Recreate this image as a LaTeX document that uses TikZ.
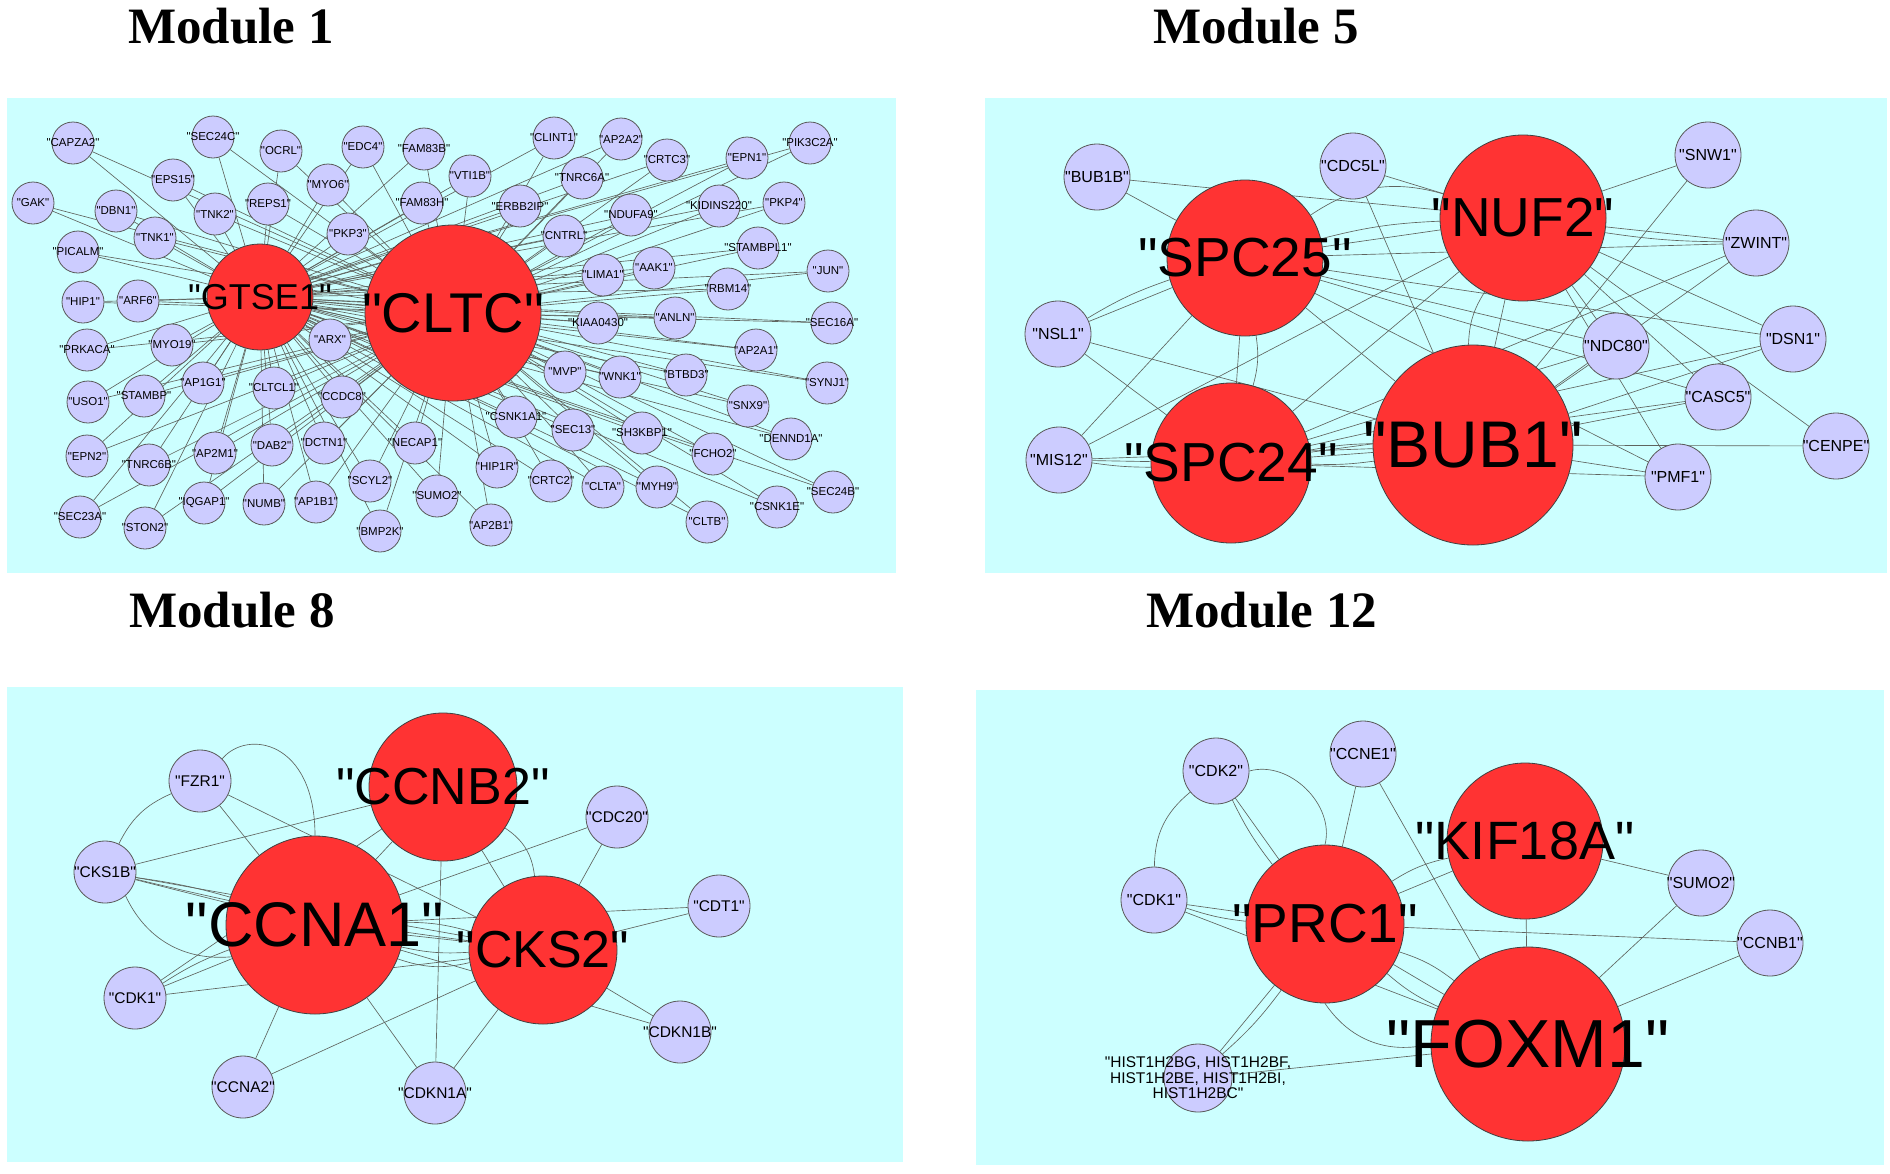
\documentclass[tikz,border=0pt]{standalone}
\usepackage{fontspec}
\setmainfont{Liberation Sans}
\newfontfamily\labelfont{Liberation Sans}
\newfontfamily\titlefont{Liberation Serif}
\usepackage{tikz}

\definecolor{panelcyan}{RGB}{204,255,255}
\definecolor{hubred}{RGB}{255,51,51}
\definecolor{genelilac}{RGB}{204,204,255}
\definecolor{wiregray}{RGB}{95,100,95}

\pgfdeclarelayer{panel}
\pgfdeclarelayer{wires}
\pgfsetlayers{panel,wires,main}

\tikzset{
  gene/.style={circle, draw=black!65, line width=0.8pt, fill=genelilac, inner sep=0pt, minimum size=#1},
  hub/.style={circle, draw=black!75, line width=0.8pt, fill=hubred, inner sep=0pt, minimum size=#1},
  gtxt/.style={font=\labelfont\fontsize{#1}{#1}\selectfont, inner sep=0pt, text=black},
  link/.style={draw=wiregray, line width=0.65pt},
  modtitle/.style={font=\titlefont\bfseries\fontsize{51}{51}\selectfont, anchor=base west, inner sep=0pt},
}

\begin{document}
\begin{tikzpicture}[x=1pt, y=-1pt]
    \useasboundingbox (0,0) rectangle (1890,1173);

    % panels
    \begin{pgfonlayer}{panel}
    \fill[panelcyan] (7,98) rectangle (896,573);
    \fill[panelcyan] (985,98) rectangle (1887,573);
    \fill[panelcyan] (7,687) rectangle (903,1162);
    \fill[panelcyan] (976,690) rectangle (1884,1165);
    \end{pgfonlayer}

    \node[modtitle] (t1) at (128,43) {Module 1};
    \node[modtitle] (t5) at (1153,43) {Module 5};
    \node[modtitle] (t8) at (129,627) {Module 8};
    \node[modtitle] (t12) at (1146,627) {Module 12};

    % Module 1
    \node[hub=106pt, label={[gtxt=36]center:"GTSE1"}] (GTSE1) at (260,297) {};
    \node[hub=176pt, label={[gtxt=56]center:"CLTC"}] (CLTC) at (453,313) {};
    \foreach \n/\x/\y in {CAPZA2/73/143, SEC24C/213/137, OCRL/281/151, EPS15/173/180,
        GAK/33/203, DBN1/116/211, TNK2/215/214, REPS1/268/204, MYO6/328/185,
        TNK1/155/238, PKP3/348/234, PICALM/78/252, HIP1/83/302, ARF6/138/301,
        ARX/330/340, PRKACA/87/350, MYO19/172/345, USO1/88/402, STAMBP/144/396,
        AP1G1/203/383, CLTCL1/274/388, CCDC8/342/397, EPN2/87/456, TNRC6B/149/465,
        AP2M1/215/453, DAB2/272/445, DCTN1/324/443, SEC23A/80/517, STON2/145/528,
        IQGAP1/204/503, NUMB/264/504, AP1B1/316/502,
        EDC4/363/147, FAM83B/424/149, FAM83H/422/203, VTI1B/470/176, CLINT1/554/138,
        AP2A2/621/139, CRTC3/667/160, EPN1/747/158, PIK3C2A/810/143, TNRC6A/582/178,
        ERBB2IP/520/206, NDUFA9/631/215, KIDINS220/719/206, PKP4/784/203, CNTRL/564/236,
        STAMBPL1/758/248, LIMA1/603/275, AAK1/654/268, JUN/828/271, RBM14/728/289,
        KIAA0430/598/323, ANLN/675/318, SEC16A/832/323, AP2A1/756/350, MVP/565/372,
        WNK1/620/377, BTBD3/686/375, SYNJ1/827/383, NECAP1/415/443, SCYL2/370/481,
        SUMO2/437/496, BMP2K/380/531, CSNK1A1/516/417, SEC13/573/430, SH3KBP1/642/433,
        SNX9/748/406, DENND1A/791/439, FCHO2/713/454, HIP1R/497/467, CRTC2/551/481,
        CLTA/603/487, MYH9/657/487, CLTB/707/522, CSNK1E/777/507, SEC24B/833/492,
        AP2B1/491/525}
        \node[gene=42pt, label={[gtxt=11.5]center:"\n"}] (\n) at (\x,\y) {};

    \begin{pgfonlayer}{wires}
    \draw[link] (GTSE1) -- (CLTC);
    \foreach \n in {CAPZA2, SEC24C, OCRL, EPS15, GAK, DBN1, TNK2, REPS1, MYO6, TNK1,
        PKP3, PICALM, HIP1, ARF6, ARX, PRKACA, MYO19, USO1, STAMBP, AP1G1, CLTCL1,
        CCDC8, EPN2, TNRC6B, AP2M1, DAB2, DCTN1, SEC23A, STON2, IQGAP1, NUMB, AP1B1,
        EDC4, FAM83B, FAM83H, VTI1B, CLINT1, AP2A2, CRTC3, EPN1, PIK3C2A, TNRC6A,
        ERBB2IP, NDUFA9, KIDINS220, PKP4, CNTRL, STAMBPL1, LIMA1, AAK1, JUN, RBM14,
        KIAA0430, ANLN, SEC16A, AP2A1, MVP, WNK1, BTBD3, SYNJ1, NECAP1, SCYL2, SUMO2,
        BMP2K, CSNK1A1, SEC13, SH3KBP1, SNX9, DENND1A, FCHO2, HIP1R, CRTC2, CLTA, MYH9,
        CLTB, CSNK1E, SEC24B, AP2B1}
        {\draw[link] (\n) -- (CLTC); \draw[link] (\n) -- (GTSE1);}
    \end{pgfonlayer}

    % Module 5
    \node[hub=156pt, label={[gtxt=55]center:"SPC25"}] (m5spc25) at (1245,258) {};
    \node[hub=166pt, label={[gtxt=55]center:"NUF2"}] (m5nuf2) at (1523,218) {};
    \node[hub=160pt, label={[gtxt=55]center:"SPC24"}] (m5spc24) at (1231,463) {};
    \node[hub=200pt, label={[gtxt=66]center:"BUB1"}] (m5bub1) at (1473,445) {};
    \node[gene=66pt, label={[gtxt=16]center:"BUB1B"}] (m5bub1b) at (1097,177) {};
    \node[gene=66pt, label={[gtxt=16]center:"CDC5L"}] (m5cdc5l) at (1353,166) {};
    \node[gene=66pt, label={[gtxt=16]center:"SNW1"}] (m5snw1) at (1708,155) {};
    \node[gene=66pt, label={[gtxt=16]center:"ZWINT"}] (m5zwint) at (1756,243) {};
    \node[gene=66pt, label={[gtxt=16]center:"NSL1"}] (m5nsl1) at (1058,334) {};
    \node[gene=66pt, label={[gtxt=16]center:"NDC80"}] (m5ndc80) at (1616,346) {};
    \node[gene=66pt, label={[gtxt=16]center:"DSN1"}] (m5dsn1) at (1793,339) {};
    \node[gene=66pt, label={[gtxt=16]center:"CASC5"}] (m5casc5) at (1718,397) {};
    \node[gene=66pt, label={[gtxt=16]center:"MIS12"}] (m5mis12) at (1059,460) {};
    \node[gene=66pt, label={[gtxt=16]center:"CENPE"}] (m5cenpe) at (1836,446) {};
    \node[gene=66pt, label={[gtxt=16]center:"PMF1"}] (m5pmf1) at (1678,477) {};

    \begin{pgfonlayer}{wires}
    \draw[link] (m5bub1b) -- (m5spc25);
    \draw[link] (m5bub1b) -- (m5nuf2);
    \draw[link] (m5cdc5l) -- (m5nuf2);
    \draw[link] (m5cdc5l) -- (m5bub1);
    \draw[link] (m5snw1) -- (m5nuf2);
    \draw[link] (m5snw1) -- (m5bub1);
    \draw[link] (m5zwint) -- (m5nuf2);
    \draw[link] (m5zwint) to[bend left=4] (m5nuf2);
    \draw[link] (m5zwint) -- (m5spc25);
    \draw[link] (m5zwint) -- (m5bub1);
    \draw[link] (m5zwint) -- (m5spc24);
    \draw[link] (m5nsl1) -- (m5spc25);
    \draw[link] (m5nsl1) to[bend left=6] (m5spc25);
    \draw[link] (m5nsl1) -- (m5bub1);
    \draw[link] (m5nsl1) -- (m5spc24);
    \draw[link] (m5mis12) -- (m5spc25);
    \draw[link] (m5mis12) -- (m5nuf2);
    \draw[link] (m5mis12) -- (m5spc24);
    \draw[link] (m5mis12) to[bend right=4] (m5spc24);
    \draw[link] (m5mis12) -- (m5bub1);
    \draw[link] (m5ndc80) -- (m5spc25);
    \draw[link] (m5ndc80) -- (m5nuf2);
    \draw[link] (m5ndc80) -- (m5bub1);
    \draw[link] (m5ndc80) -- (m5spc24);
    \draw[link] (m5dsn1) -- (m5spc25);
    \draw[link] (m5dsn1) -- (m5nuf2);
    \draw[link] (m5dsn1) -- (m5bub1);
    \draw[link] (m5dsn1) -- (m5spc24);
    \draw[link] (m5casc5) -- (m5spc25);
    \draw[link] (m5casc5) -- (m5nuf2);
    \draw[link] (m5casc5) -- (m5bub1);
    \draw[link] (m5casc5) -- (m5spc24);
    \draw[link] (m5cenpe) -- (m5bub1);
    \draw[link] (m5cenpe) -- (m5nuf2);
    \draw[link] (m5pmf1) -- (m5bub1);
    \draw[link] (m5pmf1) -- (m5nuf2);
    \draw[link] (m5pmf1) -- (m5spc24);
    \draw[link] (m5pmf1) -- (m5spc25);
    \draw[link] (m5spc25) -- (m5nuf2);
    \draw[link] (m5spc25) to[bend left=6] (m5nuf2);
    \draw[link] (m5spc25) to[bend left=25] (m5nuf2);
    \draw[link] (m5spc25) -- (m5spc24);
    \draw[link] (m5spc25) to[bend left=12] (m5spc24);
    \draw[link] (m5spc25) -- (m5bub1);
    \draw[link] (m5nuf2) -- (m5bub1);
    \draw[link] (m5nuf2) to[bend right=15] (m5bub1);
    \draw[link] (m5nuf2) -- (m5spc24);
    \draw[link] (m5spc24) -- (m5bub1);
    \draw[link] (m5spc24) to[bend left=5] (m5bub1);
    \draw[link] (m5spc24) to[bend right=5] (m5bub1);
    \end{pgfonlayer}

    % Module 8
    \node[hub=148pt, label={[gtxt=52]center:"CCNB2"}] (m8ccnb2) at (443,787) {};
    \node[hub=178pt, label={[gtxt=63]center:"CCNA1"}] (m8ccna1) at (315,925) {};
    \node[hub=148pt, label={[gtxt=52]center:"CKS2"}] (m8cks2) at (543,950) {};
    \node[gene=62pt, label={[gtxt=15.5]center:"FZR1"}] (m8fzr1) at (200,781) {};
    \node[gene=62pt, label={[gtxt=15.5]center:"CDC20"}] (m8cdc20) at (617,817) {};
    \node[gene=62pt, label={[gtxt=15.5]center:"CKS1B"}] (m8cks1b) at (105,872) {};
    \node[gene=62pt, label={[gtxt=15.5]center:"CDT1"}] (m8cdt1) at (719,906) {};
    \node[gene=62pt, label={[gtxt=15.5]center:"CDK1"}] (m8cdk1) at (135,998) {};
    \node[gene=62pt, label={[gtxt=15.5]center:"CDKN1B"}] (m8cdkn1b) at (680,1032) {};
    \node[gene=62pt, label={[gtxt=15.5]center:"CCNA2"}] (m8ccna2) at (243,1087) {};
    \node[gene=62pt, label={[gtxt=15.5]center:"CDKN1A"}] (m8cdkn1a) at (435,1093) {};

    \begin{pgfonlayer}{wires}
    \draw[link] (m8fzr1) -- (m8ccna1);
    \draw[link] (m8fzr1) -- (m8cks2);
    \draw[link] (m8fzr1) to[bend right=20] (m8cks1b);
    \draw[link] (m8fzr1.north east) .. controls +(25,-30) and +(0,-95) .. (m8ccna1.north);
    \draw[link] (m8cks1b) -- (m8ccnb2);
    \draw[link] (m8cks1b) -- (m8ccna1);
    \draw[link] (m8cks1b) to[bend left=4] (m8ccna1);
    \draw[link] (m8cks1b) -- (m8cks2);
    \draw[link] (m8cks1b) to[bend right=3] (m8cks2);
    \draw[link] (m8cks1b) to[bend right=35] (m8ccna1);
    \draw[link] (m8cdc20) -- (m8ccna1);
    \draw[link] (m8cdc20) -- (m8cks2);
    \draw[link] (m8cdt1) -- (m8cks2);
    \draw[link] (m8cdt1) -- (m8ccna1);
    \draw[link] (m8cdk1) -- (m8ccna1);
    \draw[link] (m8cdk1) to[bend left=6] (m8ccna1);
    \draw[link] (m8cdk1) -- (m8cks2);
    \draw[link] (m8cdk1) -- (m8ccnb2);
    \draw[link] (m8cdkn1b) -- (m8cks2);
    \draw[link] (m8cdkn1b) -- (m8ccna1);
    \draw[link] (m8ccna2) -- (m8ccna1);
    \draw[link] (m8ccna2) -- (m8cks2);
    \draw[link] (m8cdkn1a) -- (m8ccna1);
    \draw[link] (m8cdkn1a) -- (m8ccnb2);
    \draw[link] (m8cdkn1a) -- (m8cks2);
    \draw[link] (m8ccnb2) -- (m8ccna1);
    \draw[link] (m8ccnb2) -- (m8cks2);
    \draw[link] (m8ccnb2) to[bend left=25] (m8cks2);
    \draw[link] (m8ccna1) -- (m8cks2);
    \draw[link] (m8ccna1) to[bend left=8] (m8cks2);
    \draw[link] (m8ccna1) to[bend right=8] (m8cks2);
    \draw[link] (m8ccna1) to[bend right=16] (m8cks2);
    \end{pgfonlayer}

    % Module 12
    \node[hub=158pt, label={[gtxt=55]center:"PRC1"}] (m12prc1) at (1325,924) {};
    \node[hub=156pt, label={[gtxt=54]center:"KIF18A"}] (m12kif18a) at (1525,841) {};
    \node[hub=194pt, label={[gtxt=68]center:"FOXM1"}] (m12foxm1) at (1528,1044) {};
    \node[gene=66pt, label={[gtxt=16]center:"CCNE1"}] (m12ccne1) at (1363,754) {};
    \node[gene=66pt, label={[gtxt=16]center:"CDK2"}] (m12cdk2) at (1216,771) {};
    \node[gene=66pt, label={[gtxt=16]center:"SUMO2"}] (m12sumo2) at (1701,883) {};
    \node[gene=66pt, label={[gtxt=16]center:"CDK1"}] (m12cdk1) at (1154,900) {};
    \node[gene=66pt, label={[gtxt=16]center:"CCNB1"}] (m12ccnb1) at (1770,943) {};
    \node[gene=68pt, label={[gtxt=15.5, align=center]center:{"HIST1H2BG, HIST1H2BF,\\HIST1H2BE, HIST1H2BI,\\HIST1H2BC"}}] (m12hist) at (1198,1078) {};

    \begin{pgfonlayer}{wires}
    \draw[link] (m12cdk2) -- (m12prc1);
    \draw[link] (m12cdk2) to[bend right=6] (m12prc1);
    \draw[link] (m12cdk2.east) to[bend left=60] (m12prc1.north);
    \draw[link] (m12cdk2) to[bend right=25] (m12cdk1);
    \draw[link] (m12ccne1) -- (m12prc1);
    \draw[link] (m12ccne1) -- (m12foxm1);
    \draw[link] (m12cdk1) -- (m12prc1);
    \draw[link] (m12cdk1) to[bend right=6] (m12prc1);
    \draw[link] (m12cdk1) -- (m12foxm1);
    \draw[link] (m12kif18a) -- (m12prc1);
    \draw[link] (m12kif18a) to[bend right=10] (m12prc1);
    \draw[link] (m12kif18a) -- (m12foxm1);
    \draw[link] (m12sumo2) -- (m12kif18a);
    \draw[link] (m12sumo2) -- (m12foxm1);
    \draw[link] (m12ccnb1) -- (m12prc1);
    \draw[link] (m12ccnb1) -- (m12foxm1);
    \draw[link] (m12prc1) -- (m12foxm1);
    \draw[link] (m12prc1) to[bend left=10] (m12foxm1);
    \draw[link] (m12prc1) to[bend right=8] (m12foxm1);
    \draw[link] (m12prc1.south) to[bend right=35] (m12foxm1.west);
    \draw[link] (m12hist) -- (m12prc1);
    \draw[link] (m12hist) to[bend right=6] (m12prc1);
    \draw[link] (m12hist) -- (m12foxm1);
    \end{pgfonlayer}
\end{tikzpicture}
\end{document}
